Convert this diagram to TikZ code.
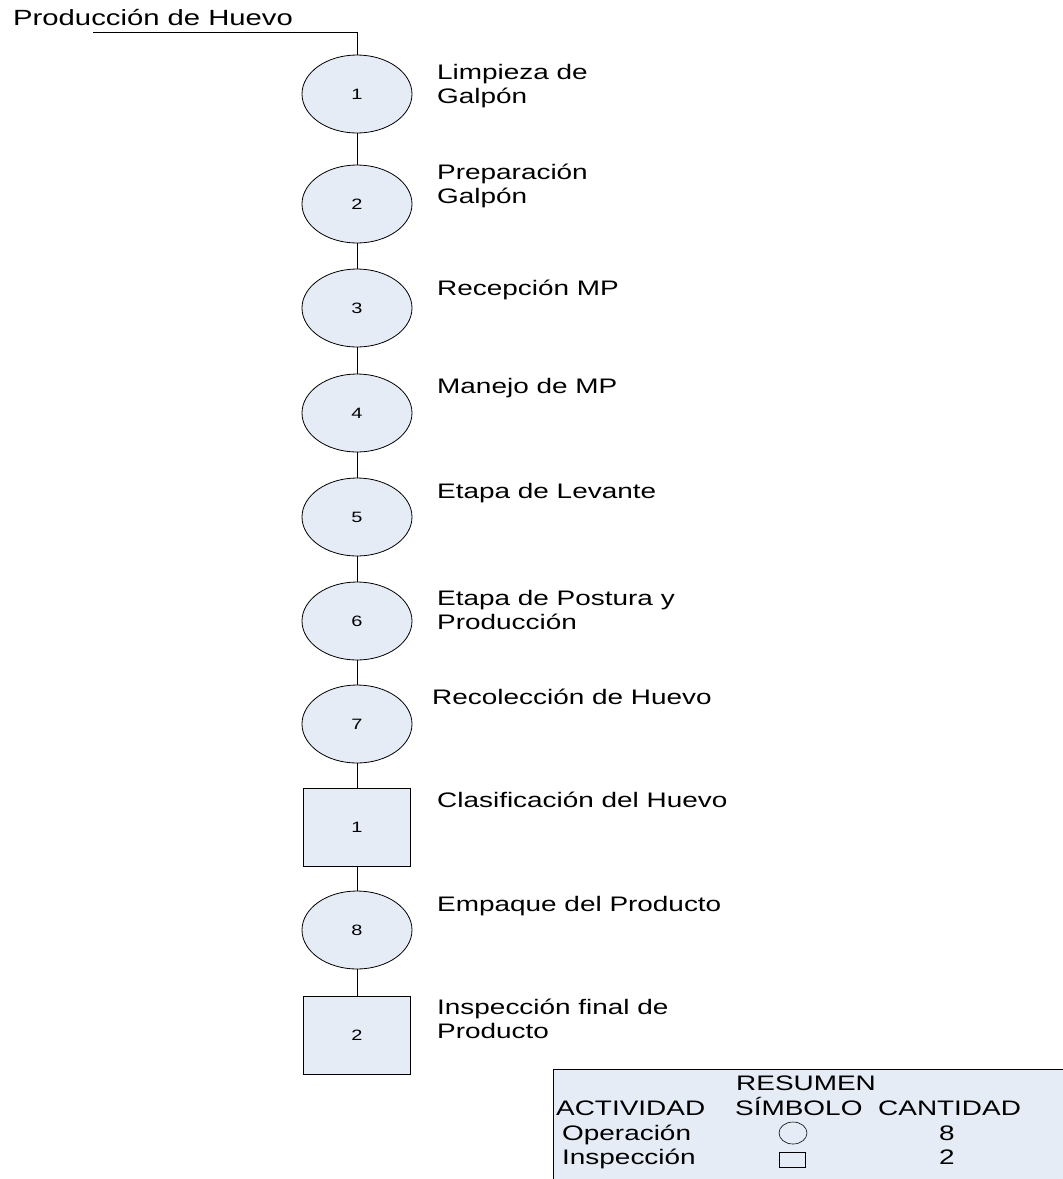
\documentclass[tikz,border=0pt]{standalone}
\usepackage{fontspec}
\setmainfont{Liberation Sans}[FakeStretch=1.33]
\usetikzlibrary{shapes.geometric}
\definecolor{shapefill}{RGB}{230,236,246}
\tikzset{
  op/.style={ellipse, draw=black, line width=0.8pt, fill=shapefill, minimum width=110pt, minimum height=78pt, inner sep=0pt, font=\fontsize{15}{17}\selectfont},
  insp/.style={rectangle, draw=black, line width=0.8pt, fill=shapefill, minimum width=107pt, minimum height=78pt, inner sep=0pt, font=\fontsize{15}{17}\selectfont},
  lbl/.style={anchor=base west, inner sep=0pt, font=\fontsize{21}{24}\selectfont},
  conn/.style={line width=0.8pt, draw=black}
}
\newcommand{\twolines}[2]{\begin{tabular}[t]{@{}l@{}}#1\\#2\end{tabular}}
\begin{document}
\begin{tikzpicture}[x=1pt,y=-1pt]
\useasboundingbox (0,0) rectangle (1063,1179);
% title
\node[lbl, font=\fontsize{22}{24}\selectfont] (title) at (13,25) {Producción de Huevo};
\coordinate (tstart) at (93,32);
% shapes
\node[op] (e1) at (357,94) {1};
\node[op] (e2) at (357,204) {2};
\node[op] (e3) at (357,308) {3};
\node[op] (e4) at (357,413) {4};
\node[op] (e5) at (357,517) {5};
\node[op] (e6) at (357,621) {6};
\node[op] (e7) at (357,724) {7};
\node[insp] (s1) at (357,827) {1};
\node[op] (e8) at (357,930) {8};
\node[insp] (s2) at (357,1035) {2};
% connectors
\draw[conn] (tstart) -| (e1);
\draw[conn] (e1) -- (e2);
\draw[conn] (e2) -- (e3);
\draw[conn] (e3) -- (e4);
\draw[conn] (e4) -- (e5);
\draw[conn] (e5) -- (e6);
\draw[conn] (e6) -- (e7);
\draw[conn] (e7) -- (s1);
\draw[conn] (s1) -- (e8);
\draw[conn] (e8) -- (s2);
% labels
\node[lbl] (l1) at (437,79) {\twolines{Limpieza de}{Galpón}};
\node[lbl] (l2) at (437,179) {\twolines{Preparación}{Galpón}};
\node[lbl] (l3) at (437,295) {Recepción MP};
\node[lbl] (l4) at (437,393) {Manejo de MP};
\node[lbl] (l5) at (437,498) {Etapa de Levante};
\node[lbl] (l6) at (437,605) {\twolines{Etapa de Postura y}{Producción}};
\node[lbl] (l7) at (432,704) {Recolección de Huevo};
\node[lbl] (l8) at (437,807) {Clasificación del Huevo};
\node[lbl] (l9) at (437,911) {Empaque del Producto};
\node[lbl] (l10) at (437,1014) {\twolines{Inspección final de}{Producto}};
% summary
\node[draw=black, line width=0.8pt, fill=shapefill, anchor=north west, minimum width=520pt, minimum height=120pt, inner sep=0pt] (summary) at (553,1069) {};
\node[lbl] (res) at (736,1090) {RESUMEN};
\node[lbl] (act) at (556,1115) {ACTIVIDAD};
\node[lbl] (sim) at (735,1115) {SÍMBOLO};
\node[lbl] (can) at (878,1115) {CANTIDAD};
\node[lbl] (oper) at (562,1140) {Operación};
\node[lbl] (insl) at (562,1164) {Inspección};
\node[ellipse, draw=black, line width=0.6pt, minimum width=28pt, minimum height=22pt, inner sep=0pt] (symop) at (793,1133) {};
\node[rectangle, draw=black, line width=0.6pt, minimum width=26pt, minimum height=15pt, inner sep=0pt] (syminsp) at (792,1160) {};
\node[lbl, anchor=base] (n8) at (947,1140) {8};
\node[lbl, anchor=base] (n2) at (947,1164) {2};
\end{tikzpicture}
\end{document}
